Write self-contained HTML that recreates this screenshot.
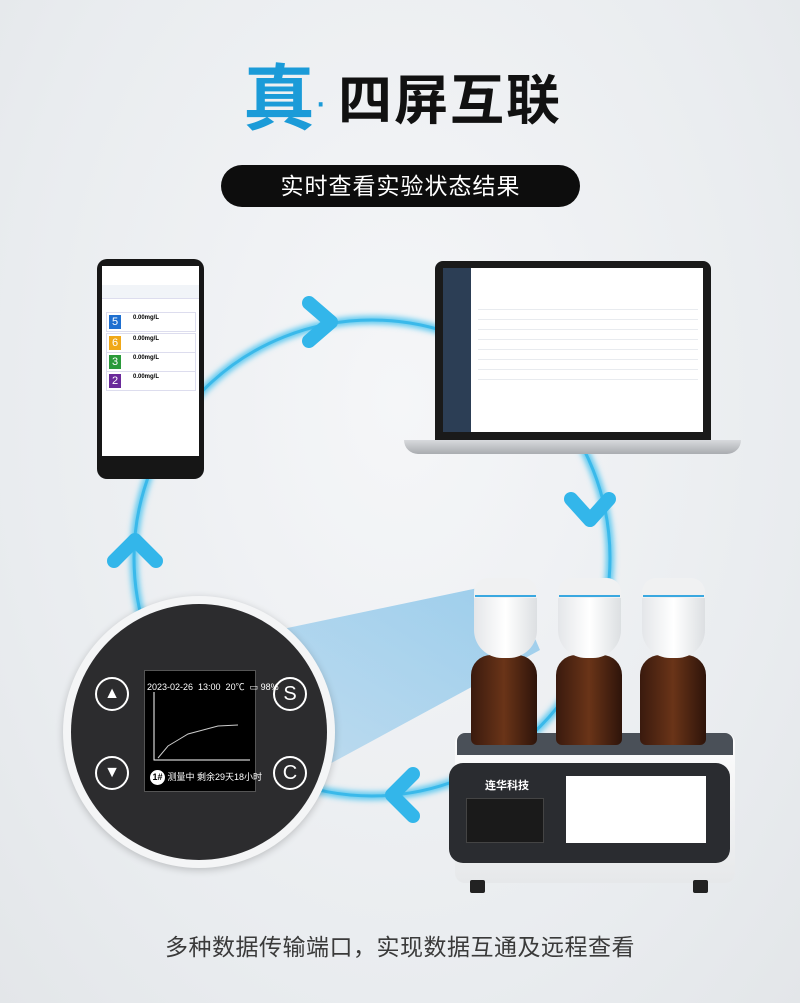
<!DOCTYPE html>
<html><head><meta charset="utf-8"><style>
*{margin:0;padding:0;box-sizing:border-box}
body{width:800px;height:1003px;overflow:hidden;background:radial-gradient(ellipse at 50% 40%,#f5f6f8 0%,#e9ecef 70%,#e3e6e9 100%);font-family:"Liberation Sans","Noto Sans CJK SC",sans-serif;position:relative}
.abs{position:absolute}
</style></head><body>
<div class="abs" style="left:243px;top:60px;font-size:72px;font-weight:bold;color:#1b9bd8;line-height:80px">真</div>
<div class="abs" style="left:314px;top:72px;font-size:40px;color:#1b9bd8;line-height:60px">·</div>
<div class="abs" style="left:338px;top:68px;font-size:54px;font-weight:bold;color:#111;line-height:66px;letter-spacing:2px">四屏互联</div>
<div class="abs" style="left:221px;top:165px;width:359px;height:42px;border-radius:21px;background:#0d0d0d;color:#fff;font-size:23px;line-height:42px;text-align:center;letter-spacing:1px">实时查看实验状态结果</div>

<svg class="abs" style="left:0;top:0" width="800" height="1003">
<defs><filter id="g" x="-20%" y="-20%" width="140%" height="140%"><feGaussianBlur stdDeviation="3"/></filter>
<linearGradient id="beam" x1="1" y1="0" x2="0" y2="1"><stop offset="0" stop-color="#8cc6ea" stop-opacity=".85"/><stop offset="1" stop-color="#8cc6ea" stop-opacity=".45"/></linearGradient></defs>
<circle cx="372" cy="558" r="238" fill="none" stroke="#59c8f0" stroke-width="8" filter="url(#g)"/>
<circle cx="372" cy="558" r="238" fill="none" stroke="#3ab9ea" stroke-width="3"/>
<g fill="none" stroke="#33b6ea" stroke-width="14" stroke-linecap="round" stroke-linejoin="round">
<polyline points="309,303 331,322 309,341"/>
<polyline points="571,499 590,520 609,499"/>
<polyline points="413,774 392,795 413,816"/>
<polyline points="114,561 135,540 156,561"/>
</g>
<polygon points="230,640 478,588 515,592 540,650 300,780" fill="url(#beam)"/>
</svg>

<!-- phone -->
<div class="abs" style="left:97px;top:259px;width:107px;height:220px;border-radius:10px;background:#161616"></div>
<div class="abs" style="left:102px;top:266px;width:97px;height:190px;background:#fff"></div>
<div class="abs" style="left:102px;top:285px;width:97px;height:14px;background:#f1f4f8;border-bottom:1px solid #dde"></div>
<div class="abs" style="left:106px;top:312px;width:90px;height:20px;border:1px solid #dde;font-size:6px"><span style="display:inline-block;background:#1e6fd0;color:#fff;width:12px;height:14px;margin:2px;font-size:11px;text-align:center;line-height:14px">5</span><b style="position:relative;top:-6px;left:10px">0.00mg/L</b></div>
<div class="abs" style="left:106px;top:333px;width:90px;height:20px;border:1px solid #dde;font-size:6px"><span style="display:inline-block;background:#f0a818;color:#fff;width:12px;height:14px;margin:2px;font-size:11px;text-align:center;line-height:14px">6</span><b style="position:relative;top:-6px;left:10px">0.00mg/L</b></div>
<div class="abs" style="left:106px;top:352px;width:90px;height:20px;border:1px solid #dde;font-size:6px"><span style="display:inline-block;background:#2a9a3a;color:#fff;width:12px;height:14px;margin:2px;font-size:11px;text-align:center;line-height:14px">3</span><b style="position:relative;top:-6px;left:10px">0.00mg/L</b></div>
<div class="abs" style="left:106px;top:371px;width:90px;height:20px;border:1px solid #dde;font-size:6px"><span style="display:inline-block;background:#6a2a9a;color:#fff;width:12px;height:14px;margin:2px;font-size:11px;text-align:center;line-height:14px">2</span><b style="position:relative;top:-6px;left:10px">0.00mg/L</b></div>

<!-- laptop -->
<div class="abs" style="left:435px;top:261px;width:276px;height:181px;border-radius:8px 8px 0 0;background:#1a1a1a"></div>
<div class="abs" style="left:443px;top:268px;width:260px;height:164px;background:#fff"></div>
<div class="abs" style="left:443px;top:268px;width:28px;height:164px;background:#2c3e55"></div>
<div class="abs" style="left:478px;top:300px;width:220px;height:80px;background:repeating-linear-gradient(#fff 0 9px,#e8ebef 9px 10px)"></div>
<div class="abs" style="left:404px;top:440px;width:337px;height:14px;border-radius:0 0 14px 14px;background:linear-gradient(#d8dadd,#a9acb0)"></div>

<!-- device -->
<div class="abs" style="left:455px;top:733px;width:280px;height:150px;border-radius:10px;background:linear-gradient(#fdfdfd,#e6e8ea)"></div>
<div class="abs" style="left:457px;top:733px;width:276px;height:22px;border-radius:8px 8px 0 0;background:#4a5058"></div>
<div class="abs" style="left:449px;top:763px;width:281px;height:100px;border-radius:14px;background:#2a2c30"></div>
<div class="abs" style="left:466px;top:798px;width:78px;height:45px;background:#1a1a1a;border:1px solid #444"></div>
<div class="abs" style="left:485px;top:777px;font-size:11px;color:#fff;font-weight:bold">连华科技</div>
<div class="abs" style="left:566px;top:776px;width:140px;height:67px;background:#fff"></div>
<div class="abs" style="left:470px;top:880px;width:15px;height:13px;background:#222;border-radius:2px"></div>
<div class="abs" style="left:693px;top:880px;width:15px;height:13px;background:#222;border-radius:2px"></div>
<div class="abs" style="left:471px;top:655px;width:66px;height:90px;border-radius:20px 20px 6px 6px;background:linear-gradient(90deg,#3a1a0e,#6a3418 50%,#2e140a)"></div>
<div class="abs" style="left:556px;top:655px;width:66px;height:90px;border-radius:20px 20px 6px 6px;background:linear-gradient(90deg,#3a1a0e,#6a3418 50%,#2e140a)"></div>
<div class="abs" style="left:640px;top:655px;width:66px;height:90px;border-radius:20px 20px 6px 6px;background:linear-gradient(90deg,#3a1a0e,#6a3418 50%,#2e140a)"></div>
<div class="abs" style="left:474px;top:578px;width:63px;height:80px;border-radius:14px 14px 28px 28px;background:linear-gradient(90deg,#e4e6e9,#fff 50%,#dcdfe2);border-top:20px solid #f0f1f2"></div>
<div class="abs" style="left:558px;top:578px;width:63px;height:80px;border-radius:14px 14px 28px 28px;background:linear-gradient(90deg,#e4e6e9,#fff 50%,#dcdfe2);border-top:20px solid #f0f1f2"></div>
<div class="abs" style="left:642px;top:578px;width:63px;height:80px;border-radius:14px 14px 28px 28px;background:linear-gradient(90deg,#e4e6e9,#fff 50%,#dcdfe2);border-top:20px solid #f0f1f2"></div>
<div class="abs" style="left:475px;top:595px;width:61px;height:2px;background:#3aa8e0"></div>
<div class="abs" style="left:559px;top:595px;width:61px;height:2px;background:#3aa8e0"></div>
<div class="abs" style="left:643px;top:595px;width:61px;height:2px;background:#3aa8e0"></div>

<!-- round panel -->
<div class="abs" style="left:63px;top:596px;width:272px;height:272px;border-radius:50%;background:#f4f5f6;box-shadow:0 2px 8px rgba(0,0,0,.2)"></div>
<div class="abs" style="left:71px;top:604px;width:256px;height:256px;border-radius:50%;background:#2c2c2e"></div>
<div class="abs" style="left:144px;top:670px;width:112px;height:122px;background:#000;border:1px solid #555"></div>
<div class="abs" style="left:147px;top:680px;font-size:9px;color:#fff;white-space:nowrap">2023-02-26 &nbsp;13:00 &nbsp;20℃ &nbsp;▭ 98%</div>
<svg class="abs" style="left:148px;top:690px" width="105" height="75"><polyline points="6,2 6,70 102,70" fill="none" stroke="#fff" stroke-width="1"/><polyline points="10,68 20,56 30,50 40,44 55,40 70,36 90,35" fill="none" stroke="#ccc" stroke-width="1"/></svg>
<div class="abs" style="left:150px;top:770px;font-size:9px;color:#fff;white-space:nowrap"><span style="display:inline-block;background:#fff;color:#000;border-radius:50%;width:15px;height:15px;text-align:center;line-height:15px;font-weight:bold">1#</span> 测量中 剩余29天18小时</div>
<div class="abs" style="left:95px;top:677px;width:34px;height:34px;border-radius:50%;border:2px solid #fff;color:#fff;text-align:center;line-height:30px;font-size:16px">▲</div>
<div class="abs" style="left:95px;top:756px;width:34px;height:34px;border-radius:50%;border:2px solid #fff;color:#fff;text-align:center;line-height:30px;font-size:16px">▼</div>
<div class="abs" style="left:273px;top:677px;width:34px;height:34px;border-radius:50%;border:2px solid #fff;color:#fff;text-align:center;line-height:30px;font-size:20px">S</div>
<div class="abs" style="left:273px;top:756px;width:34px;height:34px;border-radius:50%;border:2px solid #fff;color:#fff;text-align:center;line-height:30px;font-size:20px">C</div>

<div class="abs" style="left:0;width:800px;top:932px;text-align:center;font-size:23px;color:#3a3a3a;line-height:30px;letter-spacing:0.5px">多种数据传输端口，实现数据互通及远程查看</div>
</body></html>
